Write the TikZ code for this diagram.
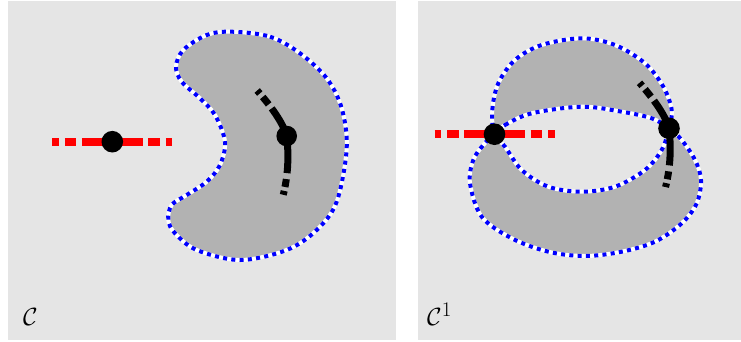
\documentclass[tikz,border=0pt]{standalone}
\usetikzlibrary{calc}
\definecolor{panelgray}{gray}{0.898}
\definecolor{regiongray}{gray}{0.70}
\tikzset{
  panel/.style={fill=panelgray, draw=none},
  regionfill/.style={fill=regiongray, draw=none},
  bdwhite/.style={draw=white, line width=4pt},
  bdblue/.style={draw=blue, line width=4pt, dash pattern=on 4pt off 4.3pt},
  redline/.style={draw=red, line width=8.3pt,
    dash pattern=on 6.5pt off 6pt on 11.5pt off 5.5pt on 61pt off 5.5pt on 11.5pt off 6pt on 6.5pt off 50pt},
  blackline/.style={draw=black, line width=7pt,
    dash pattern=on 4pt off 4.5pt on 9.5pt off 5pt on 68.8pt off 6pt on 8pt off 4pt on 4pt off 30pt},
  bigdot/.style={circle, fill=black, draw=none, inner sep=0pt, minimum size=21.6pt},
  lbl/.style={anchor=base west, inner sep=0pt, font=\fontsize{30}{30}\selectfont},
}
\begin{document}
\begin{tikzpicture}[x=1pt, y=-1pt]
\useasboundingbox (0,0) rectangle (741,341);
% panels
\path[panel] (7.5,1) rectangle (395.5,340);
\path[panel] (417.5,1) rectangle (741,340);

% ---------- left panel: kidney ----------
\def\kidney{plot[smooth cycle, tension=0.55] coordinates {
  (231.7,31.7) (270,36.7) (300,53.3) (326.7,78.3) (341.7,108.3) (346.7,148.3)
  (336.7,201.7) (316.7,230) (286.7,250) (240,260) (196.7,250) (175,233.3)
  (168.3,220) (171.7,205) (186.7,195) (206.7,181.7) (220,165) (225,141.7)
  (215,115) (200,98.3) (181.7,81.7) (176,66.7) (183.3,50) (206.7,35)}}
\path[regionfill] \kidney;
\path[bdwhite] \kidney;
\path[bdblue] \kidney;

% ---------- right panel: two overlapping loops ----------
\def\upperloop{plot[smooth cycle, tension=0.55] coordinates {
  (494.3,134) (492.3,110) (498.3,83.3) (515,60) (541.7,45) (581.7,38.3)
  (615,45) (645,63.3) (663.3,86.7) (671.7,110) (669,128.3) (661.7,150)
  (645,170) (615,186.7) (581.7,191.7) (548.3,186.7) (521.7,170) (505,146.7)}}
\def\lowerloop{plot[smooth cycle, tension=0.55] coordinates {
  (494.3,134) (505,125) (531.7,113.3) (581.7,106.7) (621.7,111.7) (651.7,118.3)
  (669,128.3) (681.7,140) (695,160) (701,180) (696.7,203.3) (681.7,223.3)
  (655,241.7) (621.7,251.7) (585,256) (548.3,251.7) (511.7,238.3) (481.7,216.7)
  (470,183.3) (473.3,160) (483.3,145)}}
\path[regionfill, even odd rule] \upperloop \lowerloop;
\path[bdwhite] \upperloop;
\path[bdwhite] \lowerloop;
\path[bdblue] \upperloop;
\path[bdblue] \lowerloop;

% ---------- points ----------
\coordinate (pL) at (112.3,141.7);
\coordinate (qL) at (286.7,136);
\coordinate (pR) at (494.5,134.2);
\coordinate (qR) at (669,128.3);
\coordinate (pLa) at ($(pL)+(-60,0)$);
\coordinate (pLb) at ($(pL)+(60,0)$);
\coordinate (pRa) at ($(pR)+(-60,0)$);
\coordinate (pRb) at ($(pR)+(60,0)$);

% red lines
\draw[redline] (pLa) -- (pLb);
\draw[redline] (pRa) -- (pRb);

% black curves
\begin{scope}[shift={(qL)}]
  \draw[blackline] (-29.5,-45.5) .. controls (-16,-30) and (-4,-14) .. (0,0)
                   .. controls (2,18) and (2,38) .. (-4,61);
\end{scope}
\begin{scope}[shift={(qR)}]
  \draw[blackline] (-29.5,-45.5) .. controls (-16,-30) and (-4,-14) .. (0,0)
                   .. controls (2,18) and (2,38) .. (-4,61);
\end{scope}

% dots
\node[bigdot] (dpL) at (pL) {};
\node[bigdot, minimum size=20.6pt] (dqL) at (qL) {};
\node[bigdot] (dpR) at (pR) {};
\node[bigdot] (dqR) at (qR) {};

% labels
\node[lbl] (labC) at (23,325.5) {$\mathcal{C}$};
\node[lbl] (labC1) at (427,325.5) {$\mathcal{C}^{1}$};
\end{tikzpicture}
\end{document}
